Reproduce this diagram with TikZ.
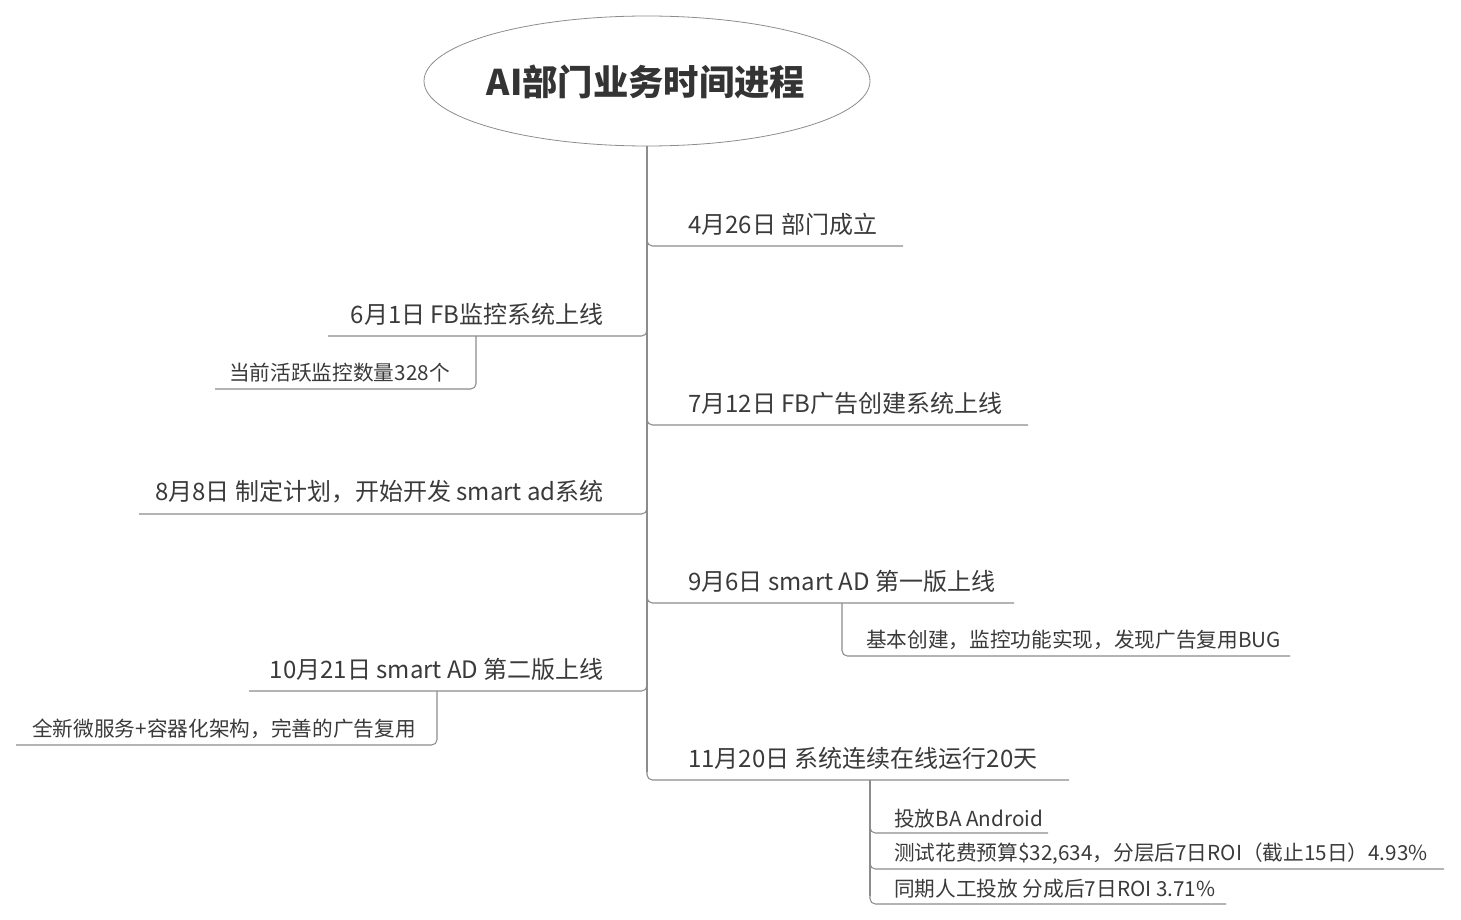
\documentclass[tikz,border=0pt]{standalone}
\usepackage{fontspec}
\setmainfont{Noto Sans CJK SC}
\usetikzlibrary{shapes.geometric}
\definecolor{txt}{HTML}{3A3A3A}
\definecolor{ln}{HTML}{8C8C8C}
\begin{document}
\begin{tikzpicture}[x=0.75pt,y=-0.75pt,
  conn/.style={draw=ln, line width=0.8pt, rounded corners=4pt},
  topic/.style={text=txt, font=\fontsize{18}{20}\selectfont, inner sep=0pt},
  subtopic/.style={text=txt, font=\fontsize{15.5}{17}\selectfont, inner sep=0pt},
  titletext/.style={text=txt!90!black, font=\fontsize{26.5}{29}\selectfont\bfseries, inner sep=0pt}]
\useasboundingbox (0,0) rectangle (1461,920);
% root
\node[ellipse, draw=ln, line width=0.6pt, minimum width=334.5pt, minimum height=97.5pt] (root) at (647,81) {};
\node[titletext] (title) at (646,82) {AI部门业务时间进程};
% branch points on trunk
\coordinate (b1) at (647,246); \coordinate (b1e) at (903,246);
\coordinate (b2) at (647,336); \coordinate (b2e) at (328,336);
\coordinate (b3) at (647,425); \coordinate (b3e) at (1028,425);
\coordinate (b4) at (647,514); \coordinate (b4e) at (139,514);
\coordinate (b5) at (647,603); \coordinate (b5e) at (1014,603);
\coordinate (b6) at (647,691); \coordinate (b6e) at (249,691);
\coordinate (b7) at (647,780); \coordinate (b7e) at (1069,780);
% trunk
\draw[conn] (root.south) -- ([yshift=6pt]b7);
\foreach \i in {1,...,7}{\draw[conn] ([yshift=8pt]b\i) -- (b\i) -- (b\i e);}
% topics
\node[topic, anchor=west] (t1) at (688,224) {4月26日 部门成立};
\node[topic, anchor=east] (t2) at (604,314) {6月1日 FB监控系统上线};
\node[topic, anchor=west] (t3) at (688,403) {7月12日 FB广告创建系统上线};
\node[topic, anchor=east] (t4) at (604,492) {8月8日 制定计划，开始开发 smart ad系统};
\node[topic, anchor=west] (t5) at (688,581) {9月6日 smart AD 第一版上线};
\node[topic, anchor=east] (t6) at (604,669) {10月21日 smart AD 第二版上线};
\node[topic, anchor=west] (t7) at (688,758) {11月20日 系统连续在线运行20天};
% sub-branches
\coordinate (s2a) at (476,336); \coordinate (s2b) at (476,389); \coordinate (s2e) at (215,389);
\draw[conn] (s2a) -- (s2b) -- (s2e);
\node[subtopic, anchor=east] (u2) at (450,373) {当前活跃监控数量328个};
\coordinate (s5a) at (842,603); \coordinate (s5b) at (842,656); \coordinate (s5e) at (1290,656);
\draw[conn] (s5a) -- (s5b) -- (s5e);
\node[subtopic, anchor=west] (u5) at (866,640) {基本创建，监控功能实现，发现广告复用BUG};
\coordinate (s6a) at (437,691); \coordinate (s6b) at (437,745); \coordinate (s6e) at (16,745);
\draw[conn] (s6a) -- (s6b) -- (s6e);
\node[subtopic, anchor=west] (u6) at (32,729) {全新微服务+容器化架构，完善的广告复用};
\coordinate (s7a) at (870,780);
\coordinate (s7b) at (870,833); \coordinate (s7be) at (1048,833);
\coordinate (s7c) at (870,869); \coordinate (s7ce) at (1444,869);
\coordinate (s7d) at (870,904); \coordinate (s7de) at (1226,904);
\draw[conn] (s7a) -- ([yshift=6pt]s7d);
\draw[conn] ([yshift=8pt]s7b) -- (s7b) -- (s7be);
\draw[conn] ([yshift=8pt]s7c) -- (s7c) -- (s7ce);
\draw[conn] ([yshift=8pt]s7d) -- (s7d) -- (s7de);
\node[subtopic, anchor=west] (u7a) at (894,819) {投放BA Android};
\node[subtopic, anchor=west] (u7b) at (894,854) {测试花费预算\$32,634，分层后7日ROI（截止15日）4.93\%};
\node[subtopic, anchor=west] (u7c) at (894,889) {同期人工投放 分成后7日ROI 3.71\%};
\end{tikzpicture}
\end{document}
